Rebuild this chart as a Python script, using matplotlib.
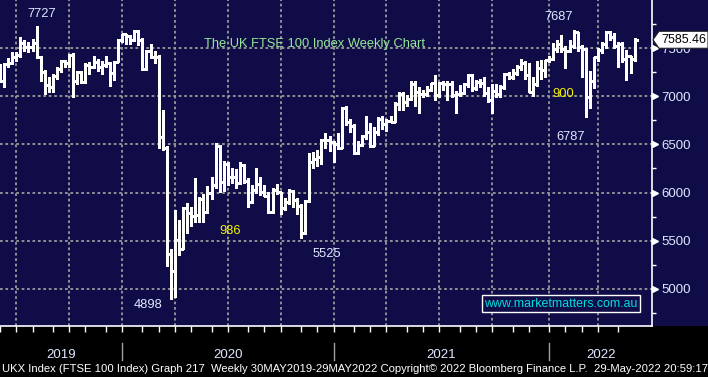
import matplotlib
matplotlib.use('Agg')
import matplotlib.pyplot as plt
import matplotlib.transforms as mtransforms
from matplotlib.collections import LineCollection
from matplotlib.patches import Polygon, Rectangle
import numpy as np
import pandas as pd

# ---------------- data (weekly OHLC, FTSE 100) ----------------
dates = pd.date_range('2019-05-31', periods=157, freq='W-FRI')

opens = [7277, 7162, 7332, 7346, 7408, 7426, 7553, 7506, 7509, 7549,
         7407, 7254, 7117, 7095, 7207, 7282, 7367, 7345, 7426, 7155,
         7247, 7150, 7324, 7302, 7359, 7303, 7327, 7347, 7240, 7353,
         7582, 7645, 7622, 7588, 7675, 7586, 7286, 7466, 7409, 7404,
         6581, 6462, 5366, 5191, 5510, 5416, 5843, 5787, 5752, 5763,
         5936, 5800, 5993, 6076, 6484, 6105, 6292, 6159, 6157, 6095,
         6290, 6124, 5898, 6032, 6090, 6001, 5964, 5799, 6032, 6007,
         5843, 5902, 6017, 5920, 5860, 5577, 5910, 6316, 6351, 6367,
         6550, 6546, 6529, 6502, 6461, 6873, 6736, 6695, 6407, 6489,
         6589, 6624, 6483, 6631, 6761, 6709, 6741, 6737, 6916, 7020,
         6938, 6970, 7130, 7044, 7018, 7023, 7069, 7134, 7017, 7136,
         7123, 7122, 7008, 7027, 7032, 7123, 7218, 7087, 7148, 7138,
         7029, 6964, 7051, 7027, 7095, 7234, 7204, 7237, 7304, 7348,
         7224, 7044, 7122, 7292, 7270, 7373, 7385, 7485, 7543, 7494,
         7466, 7516, 7661, 7514, 7489, 6987, 7156, 7405, 7483, 7538,
         7670, 7616, 7522, 7545, 7388, 7418, 7390]
highs = [7334, 7340, 7400, 7460, 7460, 7610, 7580, 7560, 7590, 7727,
         7420, 7270, 7200, 7230, 7300, 7380, 7380, 7440, 7450, 7260,
         7260, 7340, 7350, 7420, 7390, 7360, 7420, 7350, 7360, 7590,
         7650, 7650, 7630, 7690, 7690, 7600, 7480, 7540, 7470, 7430,
         6860, 6480, 5420, 5815, 5720, 5850, 5890, 5850, 6150, 5950,
         5990, 6070, 6160, 6511, 6490, 6330, 6320, 6250, 6240, 6320,
         6300, 6150, 6080, 6250, 6160, 6080, 6010, 6050, 6090, 6010,
         5940, 6040, 6030, 5940, 5880, 5920, 6408, 6420, 6440, 6560,
         6620, 6590, 6540, 6620, 6890, 6900, 6760, 6710, 6540, 6600,
         6790, 6720, 6680, 6780, 6790, 6760, 6790, 6940, 7040, 7040,
         7010, 7160, 7160, 7100, 7060, 7110, 7140, 7220, 7150, 7160,
         7160, 7160, 7050, 7120, 7140, 7230, 7230, 7170, 7180, 7200,
         7100, 7130, 7130, 7120, 7240, 7250, 7280, 7320, 7390, 7360,
         7340, 7200, 7360, 7380, 7380, 7420, 7550, 7580, 7630, 7520,
         7580, 7687, 7670, 7530, 7500, 7260, 7410, 7500, 7560, 7675,
         7675, 7660, 7560, 7560, 7480, 7420, 7600]
lows = [7150, 7100, 7300, 7330, 7360, 7410, 7470, 7460, 7470, 7400,
        7160, 7020, 7040, 7040, 7180, 7250, 7300, 7300, 6995, 7130,
        7140, 7140, 7230, 7290, 7260, 7230, 7300, 7110, 7170, 7350,
        7560, 7540, 7540, 7570, 7530, 7270, 7270, 7400, 7340, 6460,
        6440, 5237, 4898, 4920, 5350, 5416, 5580, 5650, 5690, 5700,
        5690, 5790, 5930, 6050, 6010, 6020, 6080, 6100, 6050, 6090,
        6100, 5855, 5890, 6000, 5980, 5960, 5790, 5790, 5990, 5780,
        5820, 5880, 5850, 5780, 5525, 5570, 5900, 6250, 6280, 6300,
        6460, 6430, 6320, 6450, 6460, 6700, 6630, 6400, 6400, 6480,
        6560, 6470, 6480, 6600, 6660, 6640, 6730, 6730, 6860, 6860,
        6900, 6960, 6900, 6830, 6990, 7000, 7050, 6960, 6990, 7060,
        6960, 6990, 6830, 7000, 7020, 7100, 7050, 7060, 7100, 7000,
        6940, 6830, 6990, 6990, 7070, 7180, 7180, 7220, 7270, 7180,
        7040, 7000, 7110, 7180, 7200, 7350, 7380, 7460, 7460, 7290,
        7460, 7500, 7470, 7200, 6787, 6880, 7080, 7360, 7450, 7500,
        7580, 7500, 7300, 7350, 7170, 7240, 7370]
closes = [7162, 7332, 7346, 7408, 7426, 7553, 7506, 7509, 7549, 7407,
          7254, 7117, 7095, 7207, 7282, 7367, 7345, 7426, 7155, 7247,
          7150, 7324, 7302, 7359, 7303, 7327, 7347, 7240, 7353, 7582,
          7645, 7622, 7588, 7675, 7586, 7286, 7466, 7409, 7404, 6581,
          6462, 5366, 5191, 5510, 5416, 5843, 5787, 5752, 5763, 5936,
          5800, 5993, 6076, 6484, 6105, 6292, 6159, 6157, 6095, 6290,
          6124, 5898, 6032, 6090, 6001, 5964, 5799, 6032, 6007, 5843,
          5902, 6017, 5920, 5860, 5577, 5910, 6316, 6351, 6367, 6550,
          6546, 6529, 6502, 6461, 6873, 6736, 6695, 6407, 6489, 6589,
          6624, 6483, 6631, 6761, 6709, 6741, 6737, 6916, 7020, 6938,
          6970, 7130, 7044, 7018, 7023, 7069, 7134, 7017, 7136, 7123,
          7122, 7008, 7027, 7032, 7123, 7218, 7087, 7148, 7138, 7029,
          6964, 7051, 7027, 7095, 7234, 7204, 7237, 7304, 7348, 7224,
          7044, 7122, 7292, 7270, 7373, 7385, 7485, 7543, 7494, 7466,
          7516, 7661, 7514, 7489, 6987, 7156, 7405, 7483, 7538, 7670,
          7616, 7522, 7545, 7388, 7418, 7390, 7585]

last_price = 7585.46
y_major = [5000, 5500, 6000, 6500, 7000, 7500]
y_minor = [4750, 5250, 5750, 6250, 6750, 7250, 7750]
years = ['2019', '2020', '2021', '2022']
notes_white = [('7727', 0.0640, 0.9479), ('7687', 0.8574, 0.9387),
               ('6787', 0.8758, 0.5706), ('5525', 0.5015, 0.2117),
               ('4898', 0.2270, 0.0552)]
notes_yellow = [('900', 0.8635, 0.7025), ('986', 0.3523, 0.2822)]
title = 'The UK FTSE 100 Index Weekly Chart'
website = 'www.marketmatters.com.au'
footer = ('UKX Index (FTSE 100 Index) Graph 217  Weekly 30MAY2019-29MAY2022 '
          'Copyright\u00a9 2022 Bloomberg Finance L.P.  29-May-2022 20:59:17')

# ---------------- style ----------------
NAVY = '#0f0c48'
GRID = '#9a9a9a'
LBL = '#dfe8ff'
FONT = ['Liberation Sans', 'DejaVu Sans']
plt.rcParams['font.family'] = FONT

W, H = 708, 377
fig = plt.figure(figsize=(W / 100, H / 100), dpi=100, facecolor='black')
ax = fig.add_axes([0, (H - 326) / H, 652 / W, 326 / H])
ax.set_facecolor(NAVY)
fig.add_artist(Rectangle((652 / W, (H - 326) / H), (W - 652) / W, 326 / H,
                         transform=fig.transFigure, facecolor=NAVY,
                         edgecolor='none', zorder=-1))

n = len(closes)
idx = np.arange(n)
tick = 0.9
segs = []
for i, o, h, l, c in zip(idx, opens, highs, lows, closes):
    segs.append([(i, l), (i, h)])
    segs.append([(i - tick, o), (i, o)])
    segs.append([(i, c), (i + tick, c)])
ax.add_collection(LineCollection(segs, colors='white', linewidths=0.8,
                                 zorder=3, antialiaseds=False))

ax.set_xlim(0.07, 160.27)
ax.set_ylim(4616, 7998)

# quarter (grid) and month (tick) positions: last bar of each period
per_q = dates.to_period('Q')
per_m = dates.to_period('M')
q_idx = [i for i in range(n - 1) if per_q[i] != per_q[i + 1]]
m_idx = [i for i in range(n - 1) if per_m[i] != per_m[i + 1]]
y_idx = [i for i in range(n - 1) if dates[i].year != dates[i + 1].year]

ax.set_xticks(m_idx)
ax.set_xticklabels([])
ax.tick_params(axis='x', which='major', direction='out', length=4,
               width=1, color='white')

ax.yaxis.tick_right()
ax.set_yticks(y_major)
ax.set_yticklabels([str(v) for v in y_major])
ax.set_yticks(y_minor, minor=True)
ax.tick_params(axis='y', which='major', length=0, pad=6.5,
               labelsize=9.5, labelcolor=LBL)
ax.tick_params(axis='y', which='minor', direction='out', length=3,
               width=1, color='white')

# dotted grid
dots = (0, (1.5, 1.5))
for q in q_idx:
    ax.axvline(q, color=GRID, linestyle=dots, linewidth=1.3, zorder=1)
for v in y_major:
    ax.axhline(v, color=GRID, linestyle=dots, linewidth=1.3, zorder=1)

for s in ['left', 'top']:
    ax.spines[s].set_visible(False)
for s in ['right', 'bottom']:
    ax.spines[s].set_color('white')
    ax.spines[s].set_linewidth(1.2)

# triangle markers on right axis at major ticks
trans_ay = mtransforms.blended_transform_factory(ax.transAxes, ax.transData)
ax.plot([655 / 652] * len(y_major), y_major, linestyle='none', marker='>',
        markersize=4.5, color='white', transform=trans_ay, clip_on=False,
        zorder=5)

# price tag
trans_fy = mtransforms.blended_transform_factory(fig.transFigure, ax.transData)
hh = 8.5 * (7998 - 4616) / 326
tag = Polygon([(653 / W, last_price), (659 / W, last_price + hh),
               (1.0, last_price + hh), (1.0, last_price - hh),
               (659 / W, last_price - hh)], closed=True,
              transform=trans_fy, facecolor='white', edgecolor='#222222',
              linewidth=0.8, clip_on=False, zorder=10)
ax.add_artist(tag)
ax.text(661 / W, last_price, f'{last_price:.2f}', transform=trans_fy,
        ha='left', va='center', fontsize=9, color='black', zorder=11,
        clip_on=False)

# annotations
ax.text(0.4816, 0.8558, title, transform=ax.transAxes, ha='center',
        va='baseline', fontsize=9.3, color='#96e896', zorder=6)
for t, x, y in notes_white:
    ax.text(x, y, t, transform=ax.transAxes, ha='center', va='baseline',
            fontsize=9.3, color=LBL, zorder=6)
for t, x, y in notes_yellow:
    ax.text(x, y, t, transform=ax.transAxes, ha='center', va='baseline',
            fontsize=9.3, color='#f2f200', zorder=6)
ax.text(0.8604, 0.0598, website, transform=ax.transAxes, ha='center',
        va='baseline', fontsize=8.9, color='#00dede', zorder=7,
        bbox=dict(facecolor=NAVY, edgecolor='white', linewidth=1.0,
                  boxstyle='square,pad=0.18'))

# bottom band: year separators and labels
trans_xf = mtransforms.blended_transform_factory(ax.transData, fig.transFigure)
for i in y_idx:
    ax.plot([i, i], [(H - 360) / H, (H - 343) / H], color='#a0a0a0',
            linewidth=1.0, transform=trans_xf, clip_on=False)
bounds = [0.07] + y_idx + [160.27]
for k, yr in enumerate(years):
    xc = (bounds[k] + bounds[k + 1]) / 2
    ax.text(xc, (H - 358) / H, yr, transform=trans_xf, ha='center',
            va='baseline', fontsize=9.5, color=LBL, clip_on=False)

ft = fig.text(2 / W, (H - 372.5) / H, footer, ha='left', va='baseline',
              fontsize=8, color='white')
fig.canvas.draw()
bb = ft.get_window_extent()
ft.set_fontsize(8 * 704 / bb.width)

fig.savefig('out.png', dpi=100, facecolor='black')
